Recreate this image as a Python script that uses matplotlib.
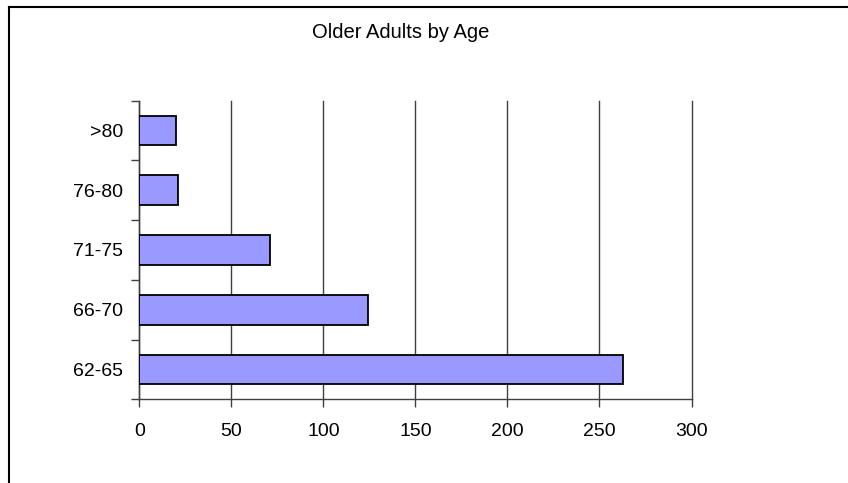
import matplotlib
matplotlib.use("Agg")
import matplotlib.pyplot as plt
from matplotlib.lines import Line2D
import numpy as np

plt.rcParams['font.family'] = ['Liberation Sans', 'DejaVu Sans']

categories = ["62-65", "66-70", "71-75", "76-80", ">80"]
values = [263, 124, 71, 21, 20]
x_ticks = [0, 50, 100, 150, 200, 250, 300]
title = "Older Adults by Age"

fig = plt.figure(figsize=(8.48, 4.83), dpi=100)
ax = fig.add_axes([139.3/848, 1-399.3/483, (691.5-139.3)/848, (399.3-100.7)/483])

y = np.arange(len(categories))
ax.barh(y, values, height=0.5, color="#9999FF", edgecolor="black", linewidth=1.3, zorder=3)

ax.set_xlim(0, 300)
ax.set_ylim(-0.5, len(categories) - 0.5)
ax.set_xticks(x_ticks)
ax.set_xticklabels([str(t) for t in x_ticks], fontsize=14)
ax.xaxis.grid(True, color="#404040", linewidth=1.0, zorder=0)
ax.set_axisbelow(True)
for gl in ax.get_xgridlines():
    gl.set_clip_on(False)

ax.set_yticks(np.arange(-0.5, len(categories), 1.0))
ax.set_yticklabels([])
ax.set_yticks(y, minor=True)
ax.set_yticklabels(categories, minor=True, fontsize=14)
ax.tick_params(axis='y', which='minor', length=0, pad=11.5)
ax.tick_params(axis='y', which='major', length=6, width=1, color="#404040", direction='out')
ax.tick_params(axis='x', length=6, width=1, color="#404040", direction='out', pad=11)

for s in ['top', 'right']:
    ax.spines[s].set_visible(False)
for s in ['left', 'bottom']:
    ax.spines[s].set_color("#404040")
    ax.spines[s].set_linewidth(1.0)

fig.text(401/848, 1-33/483, title, ha='center', va='center', fontsize=14.5)

# figure border (top and left visible)
fig.add_artist(Line2D([9/848, 1.0], [1-7/483, 1-7/483], color='black', linewidth=1.5, transform=fig.transFigure))
fig.add_artist(Line2D([9/848, 9/848], [0, 1-7/483], color='black', linewidth=1.5, transform=fig.transFigure))

fig.savefig("out.png", dpi=100)
